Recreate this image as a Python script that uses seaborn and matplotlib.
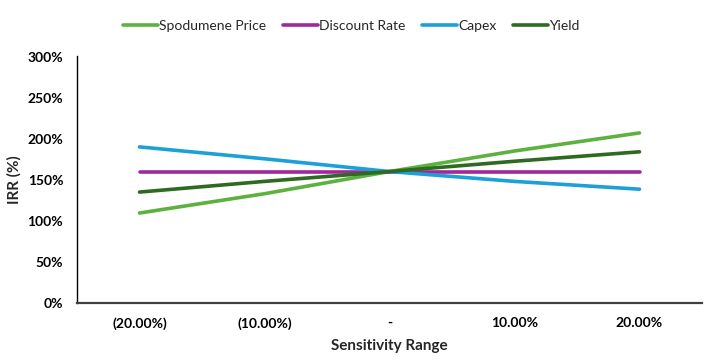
import pandas as pd
import seaborn as sns
import matplotlib.pyplot as plt
from matplotlib.ticker import FuncFormatter

sens_range = ['(20.00%)', '(10.00%)', '-', '10.00%', '20.00%']
spodumene_price = [109.5, 133, 160, 185, 207]
discount_rate = [160, 160, 160, 160, 160]
capex = [190, 175.5, 160, 148, 138.5]
yield_ = [135, 148, 160, 172.5, 184]

series = {
    'Spodumene Price': spodumene_price,
    'Discount Rate': discount_rate,
    'Capex': capex,
    'Yield': yield_,
}
colors = {
    'Spodumene Price': '#5CB23F',
    'Discount Rate': '#A0289A',
    'Capex': '#1BA0D8',
    'Yield': '#2E6A22',
}

rows = []
for name, vals in series.items():
    for i, v in enumerate(vals):
        rows.append({'pos': i, 'label': sens_range[i], 'Series': name, 'IRR': v})
df = pd.DataFrame(rows)

sns.set_style('white')
plt.rcParams['font.family'] = ['Lato', 'DejaVu Sans']

fig = plt.figure(figsize=(7.06, 3.61), dpi=100)
ax = fig.add_axes([77 / 706, (361 - 303) / 361, (702 - 77) / 706, (303 - 56.5) / 361])

sns.lineplot(data=df, x='pos', y='IRR', hue='Series', palette=colors,
             hue_order=list(series.keys()), linewidth=2.6, ax=ax,
             solid_capstyle='round')

ax.set_xlim(-0.5, 4.5)
ax.set_ylim(0, 300)
ax.set_yticks(range(0, 301, 50))
ax.yaxis.set_major_formatter(FuncFormatter(lambda v, p: f'{v:.0f}%'))
ax.set_xticks(range(len(sens_range)))
ax.set_xticklabels(sens_range)
ax.tick_params(axis='both', length=0, labelsize=10, colors='black')
ax.tick_params(axis='x', pad=10)
ax.tick_params(axis='y', pad=10)
for lbl in ax.get_xticklabels() + ax.get_yticklabels():
    lbl.set_fontweight('bold')

ax.set_xlabel('Sensitivity Range', fontsize=11, fontweight='bold', labelpad=7)
ax.set_ylabel('IRR (%)', fontsize=11, fontweight='bold', labelpad=4)

sns.despine(ax=ax)
ax.spines['left'].set_color('black')
ax.spines['left'].set_linewidth(1.0)
ax.spines['bottom'].set_color('#404040')
ax.spines['bottom'].set_linewidth(1.6)

ax.legend(loc='upper center', bbox_to_anchor=(0.5 - 38 / 625, 1.2), ncol=4,
          frameon=False, fontsize=10, handlelength=2.5, handletextpad=0.1,
          columnspacing=1.2)

fig.savefig('out.png', dpi=100)
